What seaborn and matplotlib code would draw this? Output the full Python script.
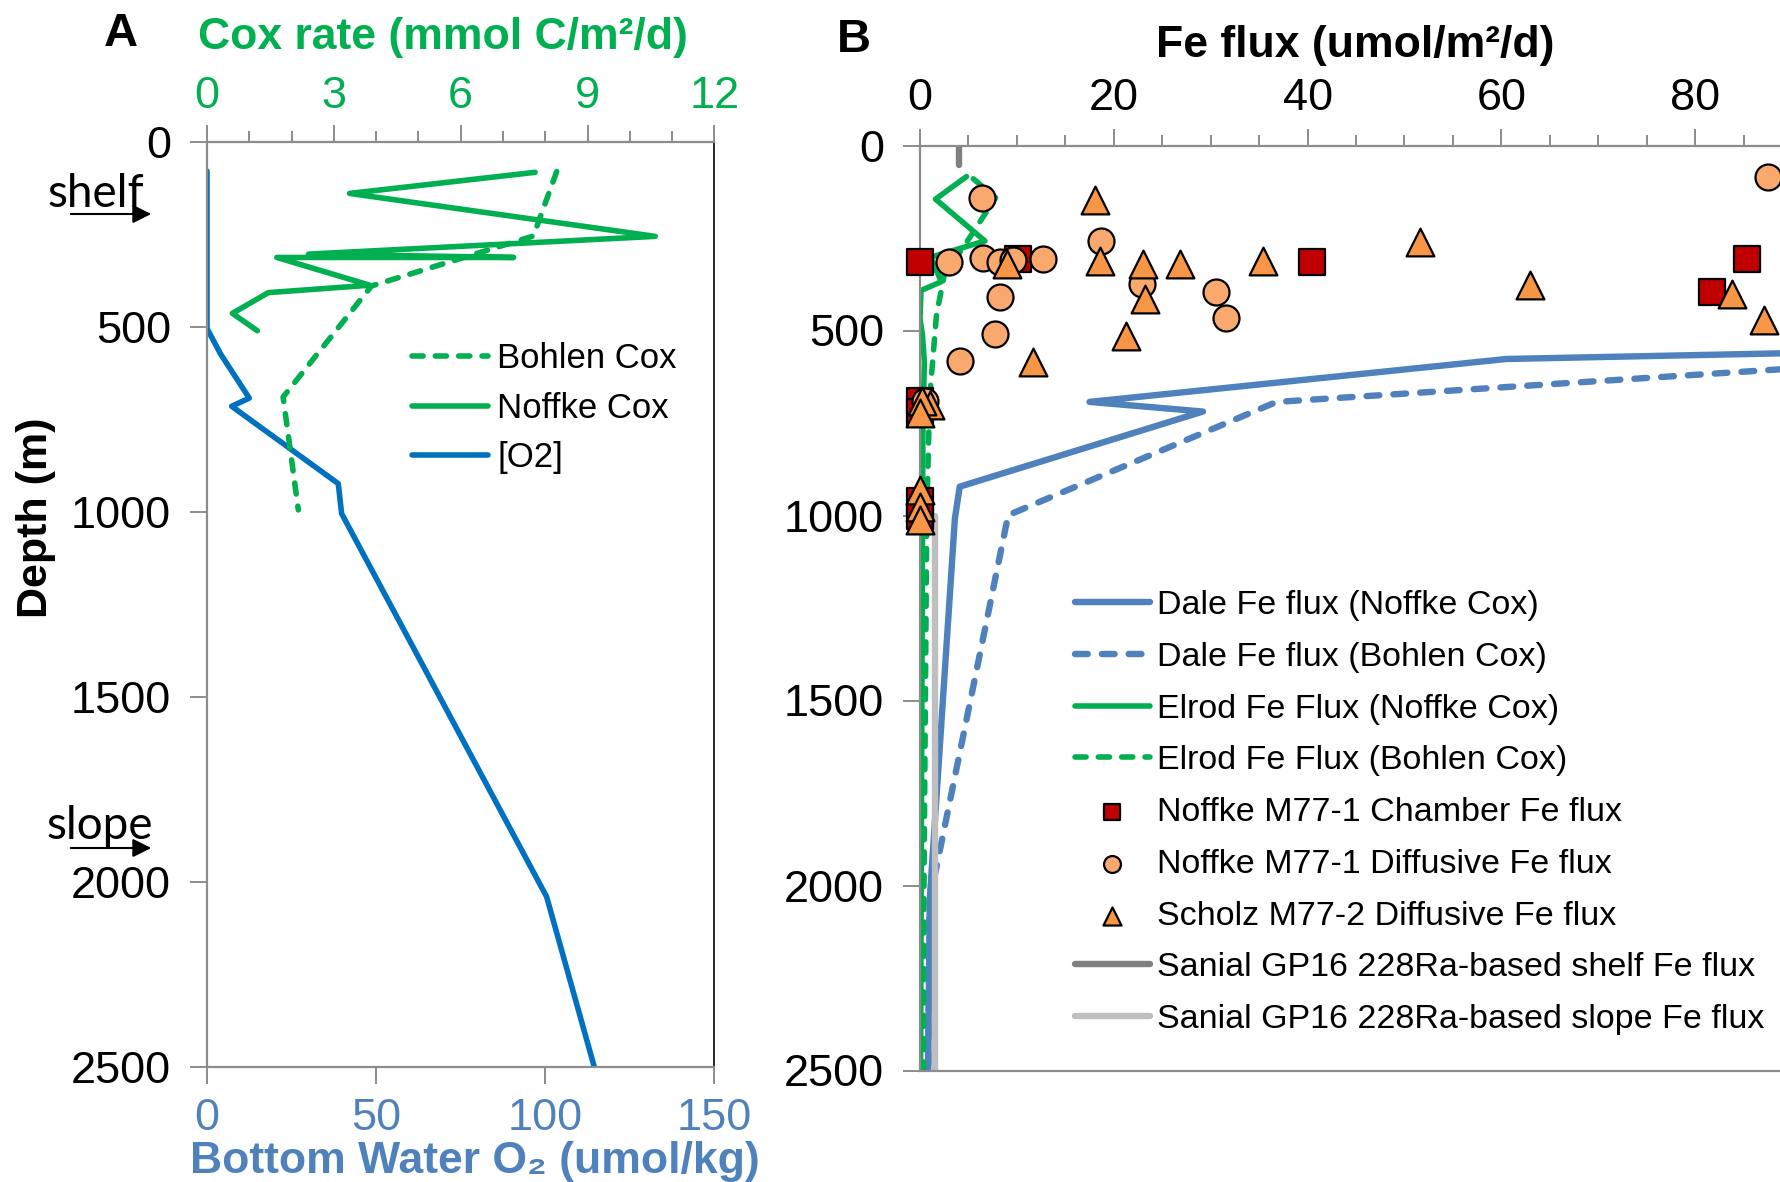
import matplotlib
matplotlib.use("Agg")
import matplotlib.pyplot as plt
import seaborn as sns
from matplotlib.ticker import MultipleLocator, FixedLocator

# ---------------- Panel A data ----------------
noffke_cox = [7.76, 3.37, 10.6, 2.40, 7.25, 1.65, 3.85, 1.45, 0.60, 1.19]
noffke_cox_depth = [83, 140, 256, 304, 313, 313, 388, 408, 464, 511]

bohlen_cox = [8.27, 7.72, 3.89, 1.80, 2.16]
bohlen_cox_depth = [81, 255, 390, 690, 995]

o2_conc = [0, 0, 4.1, 12.5, 7.3, 38.8, 39.8, 100.4, 114.5]
o2_depth = [80, 505, 575, 693, 715, 924, 1005, 2040, 2500]

# ---------------- Panel B data ----------------
dale_noffke_fe = [120, 60.5, 17.5, 29.2, 4.1, 3.6, 1.0, 0.85]
dale_noffke_depth = [545, 577, 693, 719, 922, 1008, 2040, 2500]

dale_bohlen_fe = [120, 36.8, 9.1, 1.0, 0.85]
dale_bohlen_depth = [552, 693, 999, 2040, 2500]

elrod_noffke_fe = [4.8, 1.6, 6.7, 1.1, 2.2, 0.1, 0.0, 0.25, 0.45, 0.3, 0.05]
elrod_noffke_depth = [84, 145, 258, 302, 368, 392, 468, 512, 584, 760, 2500]

elrod_bohlen_fe = [5.5, 7.8, 4.8, 2.5, 1.7, 1.0, 0.7, 0.4, 0.35]
elrod_bohlen_depth = [90, 141, 262, 350, 458, 680, 1000, 2040, 2500]

chamber_fe = [0, 10.1, 40.5, 85.3, 81.7, 0, 0, 0, 0]
chamber_depth = [314, 308, 316, 308, 395, 690, 720, 960, 1000]

diffusive_fe = [6.4, 3.0, 6.5, 8.3, 9.6, 12.7, 18.7, 22.9, 8.3, 30.5, 31.6, 7.7, 4.1, 87.5, 0.5]
diffusive_depth = [143, 314, 305, 314, 309, 308, 257, 373, 409, 395, 467, 510, 582, 84, 690]

scholz_fe = [18.1, 9.0, 18.6, 23.0, 26.8, 35.4, 23.2, 21.3, 11.7, 51.6, 62.9, 83.8, 87.1,
             1.0, 0.2, 0.0, 0.0, 0.0, 0.0]
scholz_depth = [146, 320, 312, 319, 319, 312, 415, 514, 586, 262, 377, 400, 472,
                700, 690, 724, 931, 976, 1012]

sanial_shelf_fe = [4.06, 4.06]
sanial_shelf_depth = [0, 53]
sanial_slope_fe = [1.55, 1.55]
sanial_slope_depth = [1000, 2500]

depth_ticks = [0, 500, 1000, 1500, 2000, 2500]
o2_ticks = [0, 50, 100, 150]

# ---------------- style ----------------
sns.set_theme(style="white")
plt.rcParams['font.family'] = ['Liberation Sans', 'DejaVu Sans']
plt.rcParams['text.color'] = 'black'

GREEN = '#00B050'
O2BLUE = '#0070C0'
DALE = '#4F81BD'
AXGRAY = '#8C8C8C'
TICK_FS = 32.5

W, H = 1781, 1182
fig = plt.figure(figsize=(W / 100, H / 100), dpi=100)


def fx(px):
    return px / W


def fy(py):
    return 1 - py / H


axA = fig.add_axes([fx(207), fy(1067), fx(714.4) - fx(207), fy(141.6) - fy(1067)])
axA2 = axA.twiny()
axB = fig.add_axes([fx(920), fy(1070.5), 1 - fx(920), fy(145.5) - fy(1070.5)])

dash = (0, (2.0, 2.2))
common = dict(sort=False, estimator=None, solid_joinstyle='round', solid_capstyle='round')
LW = 4.0
LWD = 4.6

# Panel A
sns.lineplot(x=o2_conc, y=o2_depth, color=O2BLUE, lw=LW, ax=axA, label='[O2]', **common)
sns.lineplot(x=bohlen_cox, y=bohlen_cox_depth, color=GREEN, lw=LW, linestyle=dash,
             dash_capstyle='round', ax=axA2, label='Bohlen Cox', **common)
sns.lineplot(x=noffke_cox, y=noffke_cox_depth, color=GREEN, lw=LW, ax=axA2,
             label='Noffke Cox', **common)

# Panel B
sns.lineplot(x=dale_noffke_fe, y=dale_noffke_depth, color=DALE, lw=LWD, ax=axB,
             label='Dale Fe flux (Noffke Cox)', zorder=2, **common)
sns.lineplot(x=dale_bohlen_fe, y=dale_bohlen_depth, color=DALE, lw=LWD, linestyle=dash,
             dash_capstyle='round', ax=axB, label='Dale Fe flux (Bohlen Cox)', zorder=2, **common)
sns.lineplot(x=elrod_noffke_fe, y=elrod_noffke_depth, color=GREEN, lw=LW, ax=axB,
             label='Elrod Fe Flux (Noffke Cox)', zorder=2.2, **common)
sns.lineplot(x=elrod_bohlen_fe, y=elrod_bohlen_depth, color=GREEN, lw=LW, linestyle=dash,
             dash_capstyle='round', ax=axB, label='Elrod Fe Flux (Bohlen Cox)', zorder=2.2, **common)
sns.lineplot(x=sanial_shelf_fe, y=sanial_shelf_depth, color='#7F7F7F', lw=LWD, ax=axB,
             label='Sanial GP16 228Ra-based shelf Fe flux', zorder=2.5, **common)
sns.lineplot(x=sanial_slope_fe, y=sanial_slope_depth, color='#BFBFBF', lw=LWD, ax=axB,
             label='Sanial GP16 228Ra-based slope Fe flux', zorder=2.1, **common)

sns.scatterplot(x=chamber_fe, y=chamber_depth, marker='s', s=340, color='#C00000',
                edgecolor='black', linewidth=1.6, ax=axB, clip_on=False, zorder=3,
                label='Noffke M77-1 Chamber Fe flux')
sns.scatterplot(x=diffusive_fe, y=diffusive_depth, marker='o', s=350, color='#F9A96E',
                edgecolor='black', linewidth=1.6, ax=axB, clip_on=False, zorder=4,
                label='Noffke M77-1 Diffusive Fe flux')
sns.scatterplot(x=scholz_fe, y=scholz_depth, marker='^', s=400, color='#F79646',
                edgecolor='black', linewidth=1.6, ax=axB, clip_on=False, zorder=5,
                label='Scholz M77-2 Diffusive Fe flux')

for ax in (axA, axA2, axB):
    if ax.get_legend() is not None:
        ax.get_legend().remove()
    ax.set_xlabel('')
    ax.set_ylabel('')
    ax.grid(False)
    ax.set_facecolor('none')

# ---------------- axes A ----------------
axA.set_xlim(0, 150)
axA2.set_xlim(0, 12)
axA.set_ylim(2500, 0)
axA.xaxis.set_major_locator(FixedLocator(o2_ticks))
axA.yaxis.set_major_locator(FixedLocator(depth_ticks))
axA2.xaxis.set_major_locator(MultipleLocator(3))
axA2.xaxis.set_minor_locator(MultipleLocator(1))

for sp in ('left', 'bottom'):
    axA.spines[sp].set_color(AXGRAY)
    axA.spines[sp].set_linewidth(1.6)
axA.spines['top'].set_visible(False)
axA.spines['right'].set_color('black')
axA.spines['right'].set_linewidth(1.2)
for sp in ('left', 'right', 'bottom'):
    axA2.spines[sp].set_visible(False)
axA2.spines['top'].set_color(AXGRAY)
axA2.spines['top'].set_linewidth(1.6)

axA.tick_params(axis='x', which='major', bottom=True, top=False, direction='out', length=12,
                width=1.4, color=AXGRAY, labelsize=TICK_FS, labelcolor=DALE, pad=10)
axA.tick_params(axis='y', which='major', left=True, direction='out', length=12, width=1.4,
                color=AXGRAY, labelsize=TICK_FS, labelcolor='black', pad=14)
axA2.tick_params(axis='x', which='major', top=True, bottom=False, direction='out', length=12,
                 width=1.4, color=AXGRAY, labelsize=TICK_FS, labelcolor=GREEN, pad=6)
axA2.tick_params(axis='x', which='minor', top=True, bottom=False, direction='out', length=8,
                 width=1.4, color=AXGRAY)

# ---------------- axes B ----------------
axB.set_xlim(0, (W - 920) / 9.69)
axB.set_ylim(2500, 0)
axB.xaxis.tick_top()
axB.xaxis.set_major_locator(MultipleLocator(20))
axB.xaxis.set_minor_locator(MultipleLocator(5))
axB.yaxis.set_major_locator(FixedLocator(depth_ticks))
for sp in ('left', 'top', 'bottom'):
    axB.spines[sp].set_color(AXGRAY)
    axB.spines[sp].set_linewidth(1.6)
axB.spines['right'].set_visible(False)
axB.tick_params(axis='x', which='major', top=True, bottom=False, direction='out', length=12,
                width=1.4, color=AXGRAY, labelsize=TICK_FS, labelcolor='black', pad=7)
axB.tick_params(axis='x', which='minor', top=True, bottom=False, direction='out', length=8,
                width=1.4, color=AXGRAY)
axB.tick_params(axis='y', which='major', left=True, direction='out', length=12, width=1.4,
                color=AXGRAY, labelsize=TICK_FS, labelcolor='black', pad=14)

# ---------------- texts ----------------
fig.text(fx(121), fy(34), 'A', ha='center', va='center', weight='bold', size=34)
fig.text(fx(854), fy(40), 'B', ha='center', va='center', weight='bold', size=34)
fig.text(fx(443), fy(37), 'Cox rate (mmol C/m²/d)', ha='center', va='center',
         weight='bold', size=32, color=GREEN)
fig.text(fx(1355), fy(45), 'Fe flux (umol/m²/d)', ha='center', va='center',
         weight='bold', size=32, color='black')
fig.text(fx(36), fy(518), 'Depth (m)', ha='center', va='center', rotation=90,
         weight='bold', size=31, color='black')
fig.text(fx(475), fy(1161), 'Bottom Water O₂ (umol/kg)', ha='center', va='center',
         weight='bold', size=32, color=DALE)

fig.text(fx(96), fy(194), 'shelf', ha='center', va='center', size=33,
         family=['Lato', 'DejaVu Sans'])
fig.text(fx(100), fy(826), 'slope', ha='center', va='center', size=33,
         family=['Lato', 'DejaVu Sans'])
for yy in (214, 848):
    axA.annotate('', xy=(154, H - yy), xytext=(68, H - yy), xycoords='figure pixels',
                 textcoords='figure pixels', annotation_clip=False,
                 arrowprops=dict(arrowstyle='-|>', color='black', lw=1.5, mutation_scale=28))

# ---------------- legends ----------------
hA2, lA2 = axA2.get_legend_handles_labels()
hA, lA = axA.get_legend_handles_labels()
dA = dict(zip(lA2 + lA, hA2 + hA))
orderA = ['Bohlen Cox', 'Noffke Cox', '[O2]']
fig.legend([dA[k] for k in orderA], orderA, loc='upper left',
           bbox_to_anchor=(fx(412), fy(342)), frameon=False, fontsize=25,
           handlelength=2.2, handletextpad=0.25, labelspacing=0.48,
           borderpad=0, borderaxespad=0, labelcolor='black')

hB, lB = axB.get_legend_handles_labels()
dB = dict(zip(lB, hB))
orderB = ['Dale Fe flux (Noffke Cox)', 'Dale Fe flux (Bohlen Cox)',
          'Elrod Fe Flux (Noffke Cox)', 'Elrod Fe Flux (Bohlen Cox)',
          'Noffke M77-1 Chamber Fe flux', 'Noffke M77-1 Diffusive Fe flux',
          'Scholz M77-2 Diffusive Fe flux', 'Sanial GP16 228Ra-based shelf Fe flux',
          'Sanial GP16 228Ra-based slope Fe flux']
fig.legend([dB[k] for k in orderB], orderB, loc='upper left',
           bbox_to_anchor=(fx(1075), fy(590)), frameon=False, fontsize=24.5,
           handlelength=2.2, handletextpad=0.22, labelspacing=0.61,
           borderpad=0, borderaxespad=0, markerscale=0.65, scatterpoints=1,
           labelcolor='black')

fig.savefig('out.png', dpi=100)
